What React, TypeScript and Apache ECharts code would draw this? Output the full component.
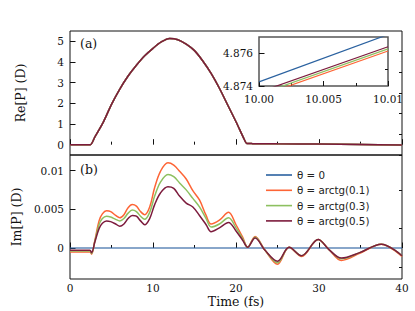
import React, { useEffect, useRef } from "react";
import * as echarts from "echarts";

// ---------- data ----------
const SERIES_NAMES = ["θ = 0", "θ = arctg(0.1)", "θ = arctg(0.3)", "θ = arctg(0.5)"];

// (a) Re[P]
const T_RE = [0, 1, 2, 2.45, 3, 4, 5, 6, 7, 8, 9, 10, 11, 12, 13, 14, 15, 16, 17, 18, 19, 20, 21, 21.3, 22, 25, 30, 35, 40];
const RE_P = [0, 0, 0, 0, 0.38, 1.08, 1.95, 2.69, 3.32, 3.84, 4.3, 4.66, 4.97, 5.14, 5.08, 4.86, 4.55, 4.05, 3.45, 2.73, 1.92, 1.11, 0.25, 0.06, 0.05, 0.04, 0.03, 0.01, -0.02];

// (b) Im[P]
const T_ZERO = [0, 40];
const IM_ZERO = [0, 0];
const T_IM = [0, 2.4, 2.6, 3.0, 3.5, 3.9, 4.4, 4.9, 5.5, 6.0, 6.5, 7.0, 7.5, 8.0, 8.5, 9.0, 9.6, 10.2, 10.9, 11.8, 12.5, 13.2, 14.0, 14.8, 15.6, 16.4, 17.0, 18.0, 19.1, 20.0, 20.8, 21.4, 22.3, 23.5, 25.0, 26.4, 27.9, 29.9, 31.2, 32.7, 34.9, 37.5, 40];
const IM_01 = [-0.0005, -0.0005, -0.0008, 0.001, 0.0035, 0.0044, 0.0048, 0.0047, 0.0042, 0.0039, 0.0043, 0.0052, 0.0056, 0.0054, 0.0047, 0.0043, 0.0053, 0.0078, 0.0099, 0.011, 0.0107, 0.0099, 0.0089, 0.0074, 0.0062, 0.0042, 0.0031, 0.0036, 0.0046, 0.003, 0.0014, 0.0001, 0.0015, -0.0003, -0.0021, 0.0001, -0.0011, 0.0011, -0.0002, -0.0016, -0.0007, 0.0005, -0.0011];
const IM_03 = [-0.0004, -0.0004, -0.0007, 0.0009, 0.003, 0.0038, 0.0041, 0.004, 0.0037, 0.0035, 0.0038, 0.0045, 0.0049, 0.0047, 0.0041, 0.0037, 0.0046, 0.0067, 0.0085, 0.0095, 0.0092, 0.0084, 0.0075, 0.0064, 0.0053, 0.0038, 0.0027, 0.0031, 0.0039, 0.0026, 0.0012, 0.0001, 0.0014, -0.0003, -0.0019, 0.0001, -0.001, 0.0011, -0.0002, -0.0014, -0.0006, 0.0005, -0.001];
const IM_05 = [-0.0003, -0.0003, -0.0006, 0.0008, 0.0025, 0.0032, 0.0035, 0.0034, 0.0031, 0.0028, 0.0031, 0.0038, 0.0042, 0.0041, 0.0035, 0.003, 0.0038, 0.0056, 0.0071, 0.0079, 0.0077, 0.0067, 0.0058, 0.0053, 0.0042, 0.003, 0.0021, 0.0026, 0.0033, 0.0022, 0.001, 0.0001, 0.0013, -0.0003, -0.0017, 0.0001, -0.001, 0.0011, -0.0002, -0.0013, -0.0006, 0.0005, -0.001];

// inset
const INSET_T = [10.0, 10.01];
const INSET_0 = [4.87425, 4.87715];
const INSET_01 = [4.87336, 4.87614];
const INSET_03 = [4.87349, 4.87627];
const INSET_05 = [4.87362, 4.8764];

// ticks
const X_TICKS = [0, 10, 20, 30, 40];
const X_TICK_LABELS = ["0", "10", "20", "30", "40"];
const RE_TICKS = [0, 1, 2, 3, 4, 5];
const RE_TICK_LABELS = ["0", "1", "2", "3", "4", "5"];
const RE_MINOR = [-0.5, 0.5, 1.5, 2.5, 3.5, 4.5];
const IM_TICKS = [0, 0.005, 0.01];
const IM_TICK_LABELS = ["0", "0.005", "0.01"];
const IM_MINOR = [-0.0025, 0.0025, 0.0075];
const INSET_X_TICKS = [10.0, 10.005, 10.01];
const INSET_X_LABELS = ["10.00", "10.005", "10.01"];
const INSET_Y_TICKS = [4.874, 4.876];
const INSET_Y_LABELS = ["4.874", "4.876"];
const INSET_Y_MINOR = [4.875];

const COLORS = ["#2b62a0", "#fd6536", "#8dc060", "#7c1b3c"];
const SERIF = "DejaVu Serif";
const SANS = "DejaVu Sans";

const zip = (xs: number[], ys: number[]) => xs.map((x, i) => [x, ys[i]]);
const labelFrom = (vals: number[], labels: string[]) => (v: number) => {
  let best = 0;
  for (let i = 0; i < vals.length; i++) if (Math.abs(vals[i] - v) < Math.abs(vals[best] - v)) best = i;
  return Math.abs(vals[best] - v) < 1e-7 ? labels[best] : "";
};

export default function App() {
  const ref = useRef<HTMLDivElement>(null);
  useEffect(() => {
    document.body.style.margin = "0";
    const chart = echarts.init(ref.current!, undefined, { renderer: "svg" });
    const tickStyle = { color: "#111", width: 1 };
    const labelStyle = { fontFamily: SERIF, fontSize: 10.5, color: "#111" };

    const xBase = (grid: number, showLabels: boolean) => ({
      type: "value",
      gridIndex: grid,
      min: 0,
      max: 40,
      interval: 10,
      axisLine: { show: false },
      splitLine: { show: false },
      axisTick: { show: true, inside: true, length: 5.5, lineStyle: tickStyle },
      minorTick: { show: true, splitNumber: 2, length: 3, lineStyle: tickStyle },
      axisLabel: {
        show: showLabels,
        ...labelStyle,
        margin: 3,
        formatter: labelFrom(X_TICKS, X_TICK_LABELS),
      },
    });

    const yMajor = (grid: number, min: number, max: number, interval: number, ticks: number[], labels: string[], extra: any = {}) => ({
      type: "value",
      gridIndex: grid,
      min,
      max,
      interval,
      axisLine: { show: false },
      splitLine: { show: false },
      axisTick: { show: true, inside: true, length: 5.5, lineStyle: tickStyle, customValues: ticks },
      axisLabel: { show: true, ...labelStyle, margin: 6, customValues: ticks, formatter: labelFrom(ticks, labels) },
      ...extra,
    });
    const yMinor = (grid: number, min: number, max: number, interval: number, ticks: number[]) => ({
      type: "value",
      gridIndex: grid,
      min,
      max,
      interval,
      axisLine: { show: false },
      splitLine: { show: false },
      axisTick: { show: true, inside: true, length: 3, lineStyle: tickStyle, customValues: ticks },
      axisLabel: { show: false },
    });

    const series: any[] = [];
    SERIES_NAMES.forEach((name, i) => {
      series.push({
        type: "line",
        name,
        xAxisIndex: 0,
        yAxisIndex: 0,
        data: zip(T_RE, RE_P),
        showSymbol: false,
        smooth: 0.3,
        color: COLORS[i],
        lineStyle: { width: 1.5, color: COLORS[i] },
        z: 2 + i,
      });
    });
    const imData = [zip(T_ZERO, IM_ZERO), zip(T_IM, IM_01), zip(T_IM, IM_03), zip(T_IM, IM_05)];
    SERIES_NAMES.forEach((name, i) => {
      series.push({
        type: "line",
        name,
        xAxisIndex: 1,
        yAxisIndex: 2,
        data: imData[i],
        showSymbol: false,
        smooth: i === 0 ? false : 0.35,
        color: COLORS[i],
        lineStyle: { width: 1.5, color: COLORS[i], opacity: i === 0 ? 0.75 : 1 },
        z: 2 + i,
      });
    });
    const insetData = [INSET_0, INSET_01, INSET_03, INSET_05];
    SERIES_NAMES.forEach((name, i) => {
      series.push({
        type: "line",
        name,
        xAxisIndex: 2,
        yAxisIndex: 4,
        data: zip(INSET_T, insetData[i]),
        showSymbol: false,
        color: COLORS[i],
        lineStyle: { width: 1.2, color: COLORS[i] },
        z: 10 + i,
      });
    });

    chart.setOption({
      animation: false,
      backgroundColor: "#fff",
      grid: [
        { left: 70, top: 31, width: 332, height: 124, show: true, borderColor: "#111", borderWidth: 1, backgroundColor: "transparent" },
        { left: 70, top: 155, width: 332, height: 124, show: true, borderColor: "#111", borderWidth: 1, backgroundColor: "transparent" },
        { left: 259, top: 37, width: 129, height: 49, show: true, borderColor: "#555", borderWidth: 1.5, backgroundColor: "#fff", z: 8 },
      ],
      xAxis: [
        xBase(0, false),
        {
          ...xBase(1, true),
          name: "Time (fs)",
          nameLocation: "middle",
          nameGap: 16,
          nameTextStyle: { fontFamily: SERIF, fontSize: 12.5, color: "#111" },
        },
        {
          type: "value",
          gridIndex: 2,
          min: 10,
          max: 10.01,
          interval: 0.005,
          z: 9,
          axisLine: { show: false },
          splitLine: { show: false },
          axisTick: { show: true, inside: true, length: 5, lineStyle: tickStyle },
          minorTick: { show: true, splitNumber: 2, length: 3, lineStyle: tickStyle },
          axisLabel: { show: true, ...labelStyle, margin: 7, formatter: labelFrom(INSET_X_TICKS, INSET_X_LABELS) },
        },
      ],
      yAxis: [
        yMajor(0, -0.5, 5.5, 0.5, RE_TICKS, RE_TICK_LABELS, {
          name: "Re[P] (D)",
          nameLocation: "middle",
          nameGap: 43,
          nameTextStyle: { fontFamily: SERIF, fontSize: 12.5, color: "#111" },
        }),
        yMinor(0, -0.5, 5.5, 0.5, RE_MINOR),
        yMajor(1, -0.004, 0.012, 0.002, IM_TICKS, IM_TICK_LABELS, {
          name: "Im[P] (D)",
          nameLocation: "middle",
          nameGap: 43,
          nameTextStyle: { fontFamily: SERIF, fontSize: 12.5, color: "#111" },
        }),
        yMinor(1, -0.004, 0.012, 0.002, IM_MINOR),
        { ...yMajor(2, 4.874, 4.877, 0.001, INSET_Y_TICKS, INSET_Y_LABELS), z: 9 },
        { ...yMinor(2, 4.874, 4.877, 0.001, INSET_Y_MINOR), z: 9 },
      ],
      legend: {
        orient: "vertical",
        left: 261,
        top: 164,
        itemWidth: 26,
        itemHeight: 1.6,
        itemGap: 3.3,
        selectedMode: false,
        data: SERIES_NAMES.map((n) => ({ name: n, icon: "rect" })),
        textStyle: { fontFamily: SANS, fontSize: 10.3, color: "#222", lineHeight: 12 },
      },
      graphic: [
        { type: "text", left: 80, top: 37, style: { text: "(a)", font: `12.5px "${SERIF}"`, fill: "#111" } },
        { type: "text", left: 80, top: 163, style: { text: "(b)", font: `12.5px "${SERIF}"`, fill: "#111" } },
      ],
      series,
    });
    return () => chart.dispose();
  }, []);
  return <div ref={ref} style={{ width: 415, height: 311, position: "absolute", left: 0, top: 0 }} />;
}
